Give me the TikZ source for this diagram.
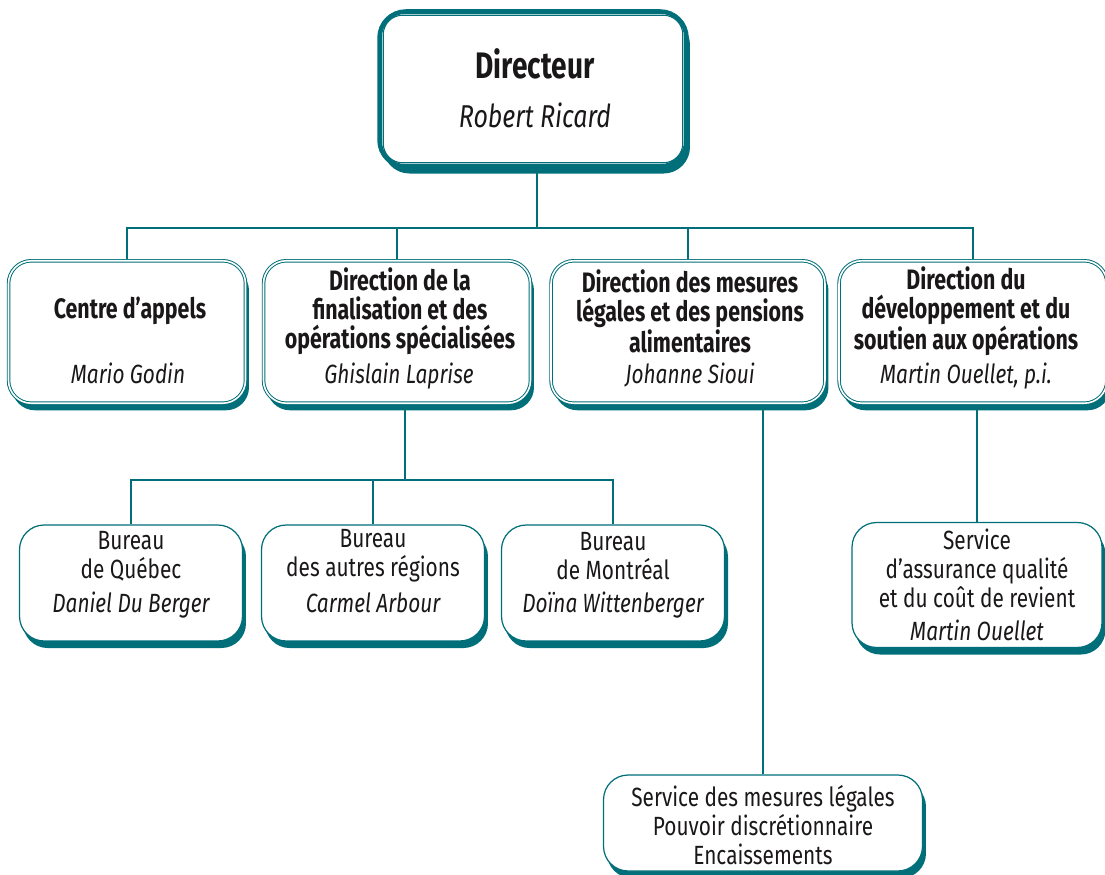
\documentclass[tikz,border=0pt]{standalone}
\usepackage{fontspec}
\setmainfont{Fira Sans}[FakeStretch=0.79, BoldFeatures={FakeStretch=0.76}]
\usetikzlibrary{shadows,backgrounds}
\definecolor{orgteal}{HTML}{006F79}
\definecolor{orgink}{HTML}{1A1718}
\tikzset{
  link/.style={draw=orgteal, line width=0.6pt},
  tealshadow/.style={drop shadow={shadow xshift=2pt, shadow yshift=-4pt, fill=orgteal, opacity=1}},
  dirbox/.style={draw=orgteal, line width=2.6pt, fill=white, rounded corners=15pt,
    minimum width=6.14cm, minimum height=3.1cm, tealshadow},
  unitbox/.style={draw=orgteal, line width=0.55pt, double=white, double distance=0.9pt,
    fill=white, rounded corners=13pt, minimum height=2.85cm, tealshadow},
  officebox/.style={draw=orgteal, line width=0.7pt, fill=white, rounded corners=14pt,
    minimum width=4.46cm, minimum height=2.32cm, tealshadow},
  dirttl/.style={anchor=base, text=orgink, font=\fontsize{21}{24}\selectfont\bfseries},
  dirname/.style={anchor=base, text=orgink, font=\fontsize{18}{21}\selectfont\itshape},
  unitttl/.style={align=center, text=orgink, inner sep=0pt, font=\fontsize{16}{16.5}\selectfont\bfseries},
  unitname/.style={anchor=base, text=orgink, inner sep=0pt, font=\fontsize{15}{16.5}\selectfont\itshape},
  officetxt/.style={align=center, text=orgink, inner sep=0pt, font=\fontsize{15}{16.5}\selectfont}
}
\begin{document}
\begin{tikzpicture}[x=0.02cm,y=-0.02cm]
\useasboundingbox (0,0) rectangle (1105,875);

\node[dirbox] (dir) at (533,89) {};
\draw[orgteal, line width=0.6pt, rounded corners=11pt] ([shift={(6,6)}]dir.north west) rectangle ([shift={(-6,-6)}]dir.south east);
\node[dirttl] (dirt) at (535,79) {Directeur};
\node[dirname] (dirn) at (535,128) {Robert Ricard};

\node[unitbox, minimum width=4.74cm] (c1) at (127,332) {};
\node[unitbox, minimum width=5.34cm] (c2) at (397,332) {};
\node[unitbox, minimum width=5.48cm] (c3) at (688,332) {};
\node[unitbox, minimum width=5.36cm] (c4) at (973,332) {};
\node[unitttl] (c1t) at (130,311) {Centre d’appels};
\node[unitttl] (c2t) at (400,311) {Direction de la\\finalisation et des\\opérations spécialisées};
\node[unitttl] (c3t) at (690,311) {Direction des mesures\\légales et des pensions\\alimentaires};
\node[unitttl] (c4t) at (966,311) {Direction du\\développement et du\\soutien aux opérations};
\node[unitname] (c1n) at (128,383) {Mario Godin};
\node[unitname] (c2n) at (399,383) {Ghislain Laprise};
\node[unitname] (c3n) at (690,383) {Johanne Sioui};
\node[unitname] (c4n) at (966,383) {Martin Ouellet, p.i.};

\node[officebox] (b1) at (131,583) {};
\node[officebox] (b2) at (373,583) {};
\node[officebox] (b3) at (613,583) {};
\node[officetxt] (b1t) at (131,556) {Bureau\\de Québec};
\node[officetxt] (b2t) at (373,556) {Bureau\\des autres régions};
\node[officetxt] (b3t) at (613,556) {Bureau\\de Montréal};
\node[unitname] (b1n) at (131,612) {Daniel Du Berger};
\node[unitname] (b2n) at (373,612) {Carmel Arbour};
\node[unitname] (b3n) at (613,612) {Doïna Wittenberger};

\node[officebox, minimum width=5.0cm, minimum height=2.5cm] (qual) at (977,585) {};
\node[officetxt] (qualt) at (977,568) {Service\\d’assurance qualité\\et du coût de revient};
\node[unitname] (qualn) at (977,640) {Martin Ouellet};

\node[officebox, minimum width=6.38cm, minimum height=1.92cm] (svc) at (763,823) {};
\node[officetxt] (svct) at (763,825) {Service des mesures légales\\Pouvoir discrétionnaire\\Encaissements};

\coordinate (bus1) at (537,228);
\coordinate (bus2) at (405,480);
\begin{pgfonlayer}{background}
\draw[link] (dir.south -| bus1) -- (bus1);
\draw[link] (c1.north) |- (bus1) -| (c4.north);
\draw[link] (c2.north) -- (c2.north |- bus1);
\draw[link] (c3.north) -- (c3.north |- bus1);
\draw[link] (bus2 |- c2.south) -- (bus2);
\draw[link] (b1.north) |- (bus2) -| (b3.north);
\draw[link] (b2.north) -- (b2.north |- bus2);
\draw[link] (svc.north) -- (svc.north |- c3.south);
\draw[link] (qual.north) -- (qual.north |- c4.south);
\end{pgfonlayer}
\end{tikzpicture}
\end{document}
